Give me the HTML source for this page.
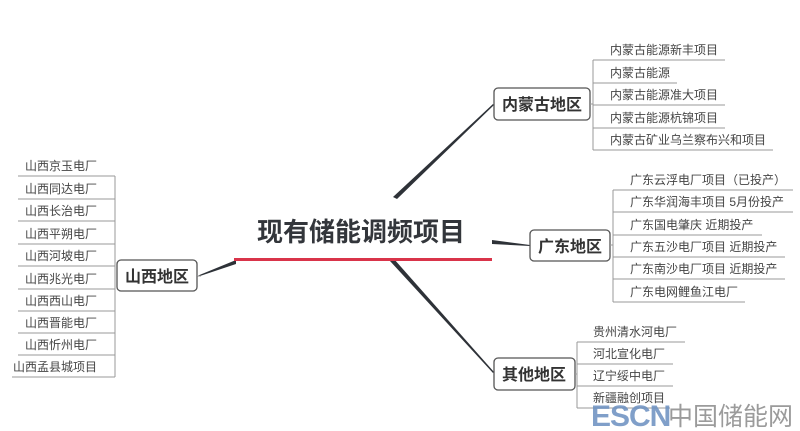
<!DOCTYPE html>
<html><head><meta charset="utf-8"><style>
body{margin:0;background:#fff}
svg{display:block}
text{font-family:"Liberation Sans","Noto Sans CJK SC",sans-serif;fill:#3a3a3a}
.it{font-size:12px;fill:#444}
.b{font-size:16px;font-weight:bold;fill:#333}
</style></head><body>
<svg width="800" height="431" viewBox="0 0 800 431" xmlns="http://www.w3.org/2000/svg">
<g fill="#2e3238">
<polygon points="393,197 397,199 494,105 493,104"/>
<polygon points="390,261 394,259 494,372 493,373"/>
<polygon points="492,240 492,244 530,246 530,245"/>
<polygon points="236,260 236,264 197,277 197,276"/>
</g>
<text x="257" y="241" style="font-size:26px;font-weight:bold;fill:#33363b">现有储能调频项目</text>
<rect x="234" y="258" width="258" height="3" fill="#d9344a"/>
<g fill="#fff" stroke="#555" stroke-width="1.3">
<rect x="117" y="260" width="80" height="31" rx="4"/>
<rect x="494" y="88" width="96" height="32" rx="4"/>
<rect x="530" y="230" width="80" height="31" rx="4"/>
<rect x="494" y="358" width="81" height="32" rx="4"/>
</g>
<text class="b" x="125" y="282">山西地区</text>
<text class="b" x="502" y="110">内蒙古地区</text>
<text class="b" x="538" y="252">广东地区</text>
<text class="b" x="502" y="380">其他地区</text>
<g stroke="#999" stroke-width="1" fill="none">
<path d="M197,276 H201 M115,176 V377 M18,176 H115 M18,199 H115 M18,221 H115 M18,244 H115 M18,266 H115 M18,289 H115 M18,311 H115 M18,333 H115 M18,355 H115 M12,377 H115"/>
<path d="M590,104 H593 M593,60 V150 M593,60 H725 M593,83 H677 M593,105 H725 M593,128 H725 M593,150 H773"/>
<path d="M610,245 H613 M613,190 V302 M613,190 H793 M613,212 H793 M613,235 H762 M613,257 H785 M613,279 H785 M613,302 H745"/>
<path d="M575,374 H577 M577,342 V408 M577,342 H685 M577,364 H673 M577,386 H673 M577,408 H670"/>
</g>
<g class="it">
<text class="it" x="25" y="170">山西京玉电厂</text>
<text class="it" x="25" y="193">山西同达电厂</text>
<text class="it" x="25" y="215">山西长治电厂</text>
<text class="it" x="25" y="238">山西平朔电厂</text>
<text class="it" x="25" y="260">山西河坡电厂</text>
<text class="it" x="25" y="283">山西兆光电厂</text>
<text class="it" x="25" y="305">山西西山电厂</text>
<text class="it" x="25" y="327">山西晋能电厂</text>
<text class="it" x="25" y="349">山西忻州电厂</text>
<text class="it" x="13" y="371">山西孟县城项目</text>
<text class="it" x="610" y="54">内蒙古能源新丰项目</text>
<text class="it" x="610" y="77">内蒙古能源</text>
<text class="it" x="610" y="99">内蒙古能源准大项目</text>
<text class="it" x="610" y="122">内蒙古能源杭锦项目</text>
<text class="it" x="610" y="144">内蒙古矿业乌兰察布兴和项目</text>
<text class="it" x="630" y="184">广东云浮电厂项目（已投产）</text>
<text class="it" x="630" y="206">广东华润海丰项目 5月份投产</text>
<text class="it" x="630" y="229">广东国电肇庆 近期投产</text>
<text class="it" x="630" y="251">广东五沙电厂项目 近期投产</text>
<text class="it" x="630" y="273">广东南沙电厂项目 近期投产</text>
<text class="it" x="630" y="296">广东电网鲤鱼江电厂</text>
<text class="it" x="593" y="336">贵州清水河电厂</text>
<text class="it" x="593" y="358">河北宣化电厂</text>
<text class="it" x="593" y="380">辽宁绥中电厂</text>
<text class="it" x="593" y="402">新疆融创项目</text>
</g>
<text x="591" y="426" style="font-size:30px;font-weight:bold;fill:#6a8fc0;opacity:.85;letter-spacing:-1px">ESCN</text>
<text x="668" y="425" style="font-size:25px;fill:#8a8a8a;opacity:.85">中国储能网</text>
</svg>
</body></html>
